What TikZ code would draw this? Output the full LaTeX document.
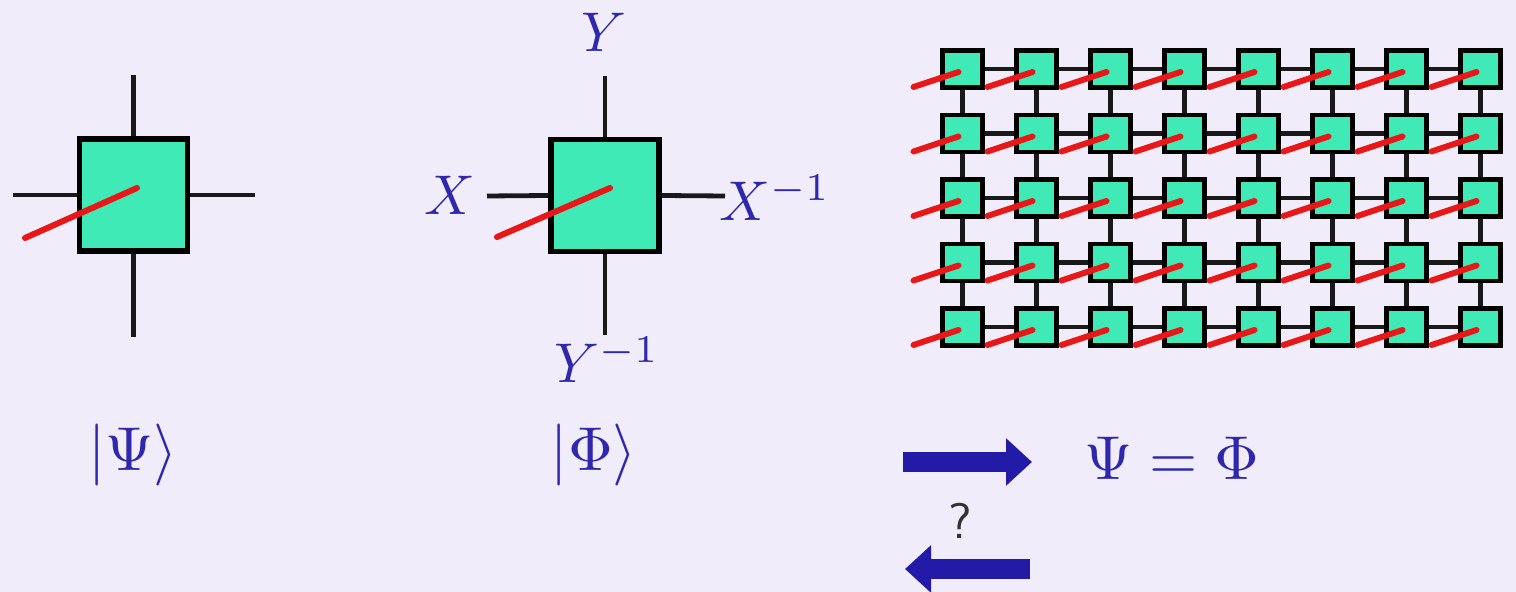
\documentclass[tikz,border=0pt]{standalone}
\usepackage{tikz}
\usepackage{xcolor}
\usetikzlibrary{arrows.meta, positioning}
\definecolor{bgLav}{RGB}{240,236,250}
\definecolor{tensorGreen}{RGB}{64,234,182}
\definecolor{legRed}{RGB}{232,24,24}
\definecolor{labelBlue}{RGB}{48,40,172}
\definecolor{arrowBlue}{RGB}{36,26,168}

\tikzset{
    tensor/.style={draw=black, fill=tensorGreen, line width=2.6pt, minimum width=54pt, minimum height=56pt, inner sep=0pt},
    site/.style={draw=black, fill=tensorGreen, line width=2.4pt, minimum width=20pt, minimum height=18.5pt, inner sep=0pt},
    leg/.style={black!90, line width=2.4pt},
    phys/.style={legRed, line width=3pt, line cap=round},
    lbl/.style={labelBlue, scale=2.8},
    greek/.style={labelBlue, scale=3.1},
    bigarrow/.style={arrowBlue, line width=10pt, -{Triangle[length=13pt, width=23pt]}},
}

\begin{document}
\begin{tikzpicture}[x=0.5pt, y=-0.5pt]
    % Background
    \fill[bgLav] (0,0) rectangle (1516,592);
    \useasboundingbox (0,0) rectangle (1516,592);

    % Single tensor |Psi>
    \node[tensor] (psi) at (133.5,195) {};
    \coordinate (psiN) at (133.5,75);
    \coordinate (psiS) at (133.5,337);
    \coordinate (psiW) at (13,195);
    \coordinate (psiE) at (255,195);
    \draw[leg] (psi.north) -- (psiN);
    \draw[leg] (psi.south) -- (psiS);
    \draw[leg] (psi.west) -- (psiW);
    \draw[leg] (psi.east) -- (psiE);
    \coordinate (psiP) at (25,238);
    \coordinate (psiC) at (137,188);
    \draw[phys] (psiP) -- (psiC);

    % Tensor with boundary matrices |Phi>
    \node[tensor] (phi) at (605,195.5) {};
    \node[lbl] (lY) at (604,32) {$Y$};
    \node[lbl] (lYi) at (607,360) {$Y^{-1}$};
    \node[lbl] (lX) at (450,195) {$X$};
    \node[lbl] (lXi) at (775,198) {$X^{-1}$};
    \coordinate (phiN) at (605,76);
    \coordinate (phiS) at (605,335);
    \coordinate (phiW) at (487,196);
    \coordinate (phiE) at (725,196);
    \draw[leg] (phi.north) -- (phiN);
    \draw[leg] (phi.south) -- (phiS);
    \draw[leg] (phi.west) -- (phiW);
    \draw[leg] (phi.east) -- (phiE);
    \coordinate (phiP) at (497,237);
    \coordinate (phiC) at (610,188);
    \draw[phys] (phiP) -- (phiC);

    % Network of 8 x 5 sites
    \foreach \i in {0,...,7} {
        \foreach \j in {0,...,4} {
            \node[site] (s-\i-\j) at ({962.5+74*\i},{69+64.5*\j}) {};
        }
    }
    \foreach \i [count=\n] in {0,...,6} {
        \foreach \j in {0,...,4} {
            \draw[leg] (s-\i-\j) -- (s-\n-\j);
        }
    }
    \foreach \i in {0,...,7} {
        \foreach \j [count=\m] in {0,...,3} {
            \draw[leg] (s-\i-\j) -- (s-\i-\m);
        }
    }
    \foreach \i in {0,...,7} {
        \foreach \j in {0,...,4} {
            \draw[phys] ([shift={(-49,18)}]s-\i-\j.center) -- ([shift={(-4,3)}]s-\i-\j.center);
        }
    }

    % Kets
    \node[greek] (ketPsi) at (133,455) {$|\Psi\rangle$};
    \node[greek] (ketPhi) at (594,455) {$|\Phi\rangle$};

    % Implication arrows
    \coordinate (fwdA) at (903,462);
    \coordinate (fwdB) at (1032,462);
    \draw[bigarrow] (fwdA) -- (fwdB);
    \coordinate (bwdA) at (1030,569);
    \coordinate (bwdB) at (905,569);
    \draw[bigarrow] (bwdA) -- (bwdB);
    \node[greek] (eq) at (1172,458) {$\Psi=\Phi$};
    \node[black!80, font=\sffamily, scale=2.5] (qm) at (960,521) {?};
\end{tikzpicture}
\end{document}
